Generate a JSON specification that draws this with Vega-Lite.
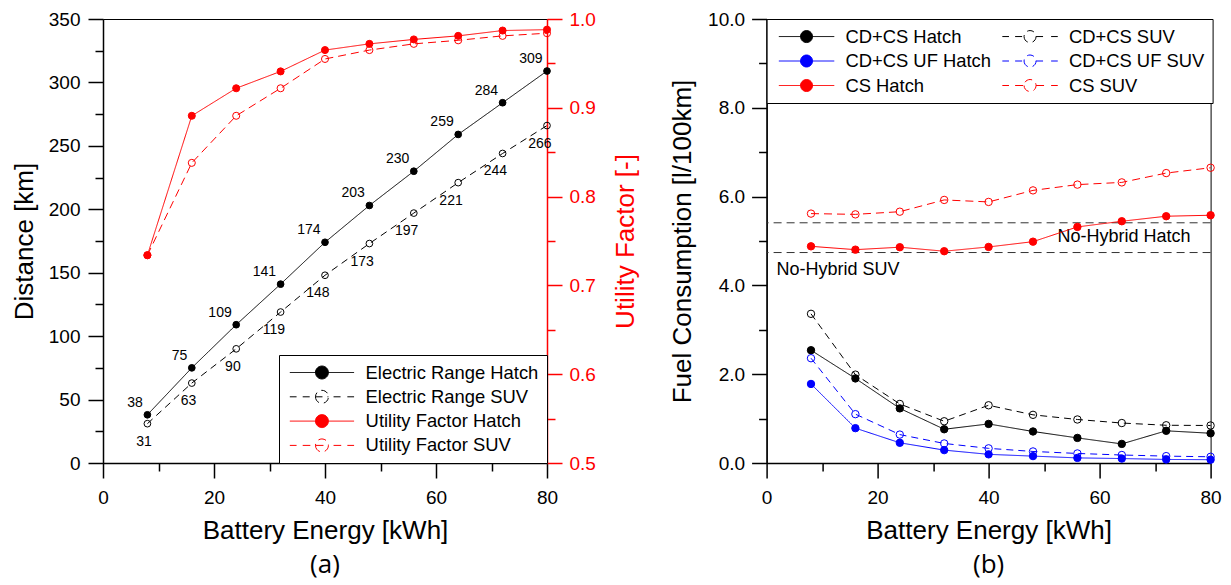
{
  "$schema": "https://vega.github.io/schema/vega-lite/v6.json",
  "padding": {"left": 10, "top": 9, "right": 0, "bottom": 10},
  "background": "white",
  "config": {
    "font": "Liberation Sans",
    "view": {"stroke": "black", "strokeWidth": 1},
    "axis": {"grid": false, "labelFontSize": 19, "labelColor": "black", "titleFontSize": 26, "titleFontWeight": "normal", "titleColor": "black", "domainColor": "black", "tickColor": "black", "domainWidth": 1.5, "tickWidth": 1.5, "labelFlush": false, "labelOverlap": false},
    "legend": {"labelFont": "Liberation Sans", "labelColor": "black"}
  },
  "bounds": "flush",
  "spacing": 219.6,
  "resolve": {
    "scale": {"x": "independent", "y": "independent", "fill": "independent", "stroke": "independent", "shape": "independent", "strokeDash": "independent"},
    "legend": {"fill": "independent", "stroke": "independent", "shape": "independent"}
  },
  "datasets": {
    "left": [
      {"energy": 8, "series": "Electric Range Hatch", "value": 38},
      {"energy": 16, "series": "Electric Range Hatch", "value": 75},
      {"energy": 24, "series": "Electric Range Hatch", "value": 109},
      {"energy": 32, "series": "Electric Range Hatch", "value": 141},
      {"energy": 40, "series": "Electric Range Hatch", "value": 174},
      {"energy": 48, "series": "Electric Range Hatch", "value": 203},
      {"energy": 56, "series": "Electric Range Hatch", "value": 230},
      {"energy": 64, "series": "Electric Range Hatch", "value": 259},
      {"energy": 72, "series": "Electric Range Hatch", "value": 284},
      {"energy": 80, "series": "Electric Range Hatch", "value": 309},
      {"energy": 8, "series": "Electric Range SUV", "value": 31},
      {"energy": 16, "series": "Electric Range SUV", "value": 63},
      {"energy": 24, "series": "Electric Range SUV", "value": 90},
      {"energy": 32, "series": "Electric Range SUV", "value": 119},
      {"energy": 40, "series": "Electric Range SUV", "value": 148},
      {"energy": 48, "series": "Electric Range SUV", "value": 173},
      {"energy": 56, "series": "Electric Range SUV", "value": 197},
      {"energy": 64, "series": "Electric Range SUV", "value": 221},
      {"energy": 72, "series": "Electric Range SUV", "value": 244},
      {"energy": 80, "series": "Electric Range SUV", "value": 266},
      {"energy": 8, "series": "Utility Factor Hatch", "value": 0.734},
      {"energy": 16, "series": "Utility Factor Hatch", "value": 0.891},
      {"energy": 24, "series": "Utility Factor Hatch", "value": 0.922},
      {"energy": 32, "series": "Utility Factor Hatch", "value": 0.941},
      {"energy": 40, "series": "Utility Factor Hatch", "value": 0.965},
      {"energy": 48, "series": "Utility Factor Hatch", "value": 0.972},
      {"energy": 56, "series": "Utility Factor Hatch", "value": 0.977},
      {"energy": 64, "series": "Utility Factor Hatch", "value": 0.981},
      {"energy": 72, "series": "Utility Factor Hatch", "value": 0.987},
      {"energy": 80, "series": "Utility Factor Hatch", "value": 0.988},
      {"energy": 8, "series": "Utility Factor SUV", "value": 0.734},
      {"energy": 16, "series": "Utility Factor SUV", "value": 0.838},
      {"energy": 24, "series": "Utility Factor SUV", "value": 0.891},
      {"energy": 32, "series": "Utility Factor SUV", "value": 0.922},
      {"energy": 40, "series": "Utility Factor SUV", "value": 0.955},
      {"energy": 48, "series": "Utility Factor SUV", "value": 0.965},
      {"energy": 56, "series": "Utility Factor SUV", "value": 0.972},
      {"energy": 64, "series": "Utility Factor SUV", "value": 0.976},
      {"energy": 72, "series": "Utility Factor SUV", "value": 0.981},
      {"energy": 80, "series": "Utility Factor SUV", "value": 0.984}
    ],
    "right": [
      {"energy": 8, "series": "CD+CS Hatch", "value": 2.54},
      {"energy": 16, "series": "CD+CS Hatch", "value": 1.905},
      {"energy": 24, "series": "CD+CS Hatch", "value": 1.23},
      {"energy": 32, "series": "CD+CS Hatch", "value": 0.76},
      {"energy": 40, "series": "CD+CS Hatch", "value": 0.88},
      {"energy": 48, "series": "CD+CS Hatch", "value": 0.71},
      {"energy": 56, "series": "CD+CS Hatch", "value": 0.565},
      {"energy": 64, "series": "CD+CS Hatch", "value": 0.43},
      {"energy": 72, "series": "CD+CS Hatch", "value": 0.725},
      {"energy": 80, "series": "CD+CS Hatch", "value": 0.67},
      {"energy": 8, "series": "CD+CS SUV", "value": 3.36},
      {"energy": 16, "series": "CD+CS SUV", "value": 1.99},
      {"energy": 24, "series": "CD+CS SUV", "value": 1.33},
      {"energy": 32, "series": "CD+CS SUV", "value": 0.94},
      {"energy": 40, "series": "CD+CS SUV", "value": 1.3},
      {"energy": 48, "series": "CD+CS SUV", "value": 1.085},
      {"energy": 56, "series": "CD+CS SUV", "value": 0.98},
      {"energy": 64, "series": "CD+CS SUV", "value": 0.9},
      {"energy": 72, "series": "CD+CS SUV", "value": 0.85},
      {"energy": 80, "series": "CD+CS SUV", "value": 0.845},
      {"energy": 8, "series": "CD+CS UF Hatch", "value": 1.78},
      {"energy": 16, "series": "CD+CS UF Hatch", "value": 0.785},
      {"energy": 24, "series": "CD+CS UF Hatch", "value": 0.455},
      {"energy": 32, "series": "CD+CS UF Hatch", "value": 0.29},
      {"energy": 40, "series": "CD+CS UF Hatch", "value": 0.195},
      {"energy": 48, "series": "CD+CS UF Hatch", "value": 0.155},
      {"energy": 56, "series": "CD+CS UF Hatch", "value": 0.115},
      {"energy": 64, "series": "CD+CS UF Hatch", "value": 0.1},
      {"energy": 72, "series": "CD+CS UF Hatch", "value": 0.08},
      {"energy": 80, "series": "CD+CS UF Hatch", "value": 0.075},
      {"energy": 8, "series": "CD+CS UF SUV", "value": 2.36},
      {"energy": 16, "series": "CD+CS UF SUV", "value": 1.1},
      {"energy": 24, "series": "CD+CS UF SUV", "value": 0.64},
      {"energy": 32, "series": "CD+CS UF SUV", "value": 0.44},
      {"energy": 40, "series": "CD+CS UF SUV", "value": 0.33},
      {"energy": 48, "series": "CD+CS UF SUV", "value": 0.26},
      {"energy": 56, "series": "CD+CS UF SUV", "value": 0.215},
      {"energy": 64, "series": "CD+CS UF SUV", "value": 0.18},
      {"energy": 72, "series": "CD+CS UF SUV", "value": 0.155},
      {"energy": 80, "series": "CD+CS UF SUV", "value": 0.14},
      {"energy": 8, "series": "CS Hatch", "value": 4.88},
      {"energy": 16, "series": "CS Hatch", "value": 4.805},
      {"energy": 24, "series": "CS Hatch", "value": 4.86},
      {"energy": 32, "series": "CS Hatch", "value": 4.77},
      {"energy": 40, "series": "CS Hatch", "value": 4.866},
      {"energy": 48, "series": "CS Hatch", "value": 4.985},
      {"energy": 56, "series": "CS Hatch", "value": 5.317},
      {"energy": 64, "series": "CS Hatch", "value": 5.445},
      {"energy": 72, "series": "CS Hatch", "value": 5.558},
      {"energy": 80, "series": "CS Hatch", "value": 5.58},
      {"energy": 8, "series": "CS SUV", "value": 5.617},
      {"energy": 16, "series": "CS SUV", "value": 5.6},
      {"energy": 24, "series": "CS SUV", "value": 5.66},
      {"energy": 32, "series": "CS SUV", "value": 5.925},
      {"energy": 40, "series": "CS SUV", "value": 5.88},
      {"energy": 48, "series": "CS SUV", "value": 6.14},
      {"energy": 56, "series": "CS SUV", "value": 6.27},
      {"energy": 64, "series": "CS SUV", "value": 6.32},
      {"energy": 72, "series": "CS SUV", "value": 6.53},
      {"energy": 80, "series": "CS SUV", "value": 6.65}
    ],
    "refs": [
      {"ref": "No-Hybrid Hatch", "value": 5.41},
      {"ref": "No-Hybrid SUV", "value": 4.74}
    ]
  },
  "hconcat": [
    {
      "width": 444,
      "height": 444,
      "data": {"name": "left"},
      "title": {"text": "(a)", "orient": "bottom", "anchor": "middle", "font": "Open Sans", "fontSize": 26, "fontWeight": "normal", "offset": 9},
      "layer": [
        {
          "layer": [
            {
              "transform": [{"filter": "datum.energy < 0"}],
              "mark": {"type": "point", "opacity": 1},
              "encoding": {
                "x": {"field": "energy", "type": "quantitative", "scale": {"domain": [0, 80], "nice": false},
                  "axis": {"orient": "bottom", "values": [0, 20, 40, 60, 80], "format": "d", "title": "Battery Energy [kWh]", "tickSize": 15, "labelPadding": 10, "titlePadding": 10}},
                "y": {"field": "value", "type": "quantitative", "scale": {"domain": [0, 350], "nice": false},
                  "axis": {"orient": "left", "values": [0, 50, 100, 150, 200, 250, 300, 350], "format": "d", "title": "Distance [km]", "tickSize": 15, "labelPadding": 8, "titlePadding": 11}},
                "fill": {"field": "series", "type": "nominal",
                  "scale": {"domain": ["Electric Range Hatch", "Electric Range SUV", "Utility Factor Hatch", "Utility Factor SUV"], "range": ["black", "transparent", "red", "transparent"]},
                  "legend": {"title": null, "orient": "bottom-right", "offset": 0, "padding": 8, "symbolSize": 324, "symbolOffset": 25.45, "symbolStrokeWidth": 1, "symbolOpacity": 1, "labelFontSize": 18.4, "labelOffset": 34.15, "rowPadding": 5.3, "fillColor": "white", "strokeColor": "black", "labelLimit": 400}},
                "stroke": {"field": "series", "type": "nominal",
                  "scale": {"domain": ["Electric Range Hatch", "Electric Range SUV", "Utility Factor Hatch", "Utility Factor SUV"], "range": ["black", "black", "red", "red"]},
                  "legend": {"title": null, "orient": "bottom-right", "offset": 0, "padding": 8, "symbolSize": 324, "symbolOffset": 25.45, "symbolStrokeWidth": 1, "symbolOpacity": 1, "labelFontSize": 18.4, "labelOffset": 34.15, "rowPadding": 5.3, "fillColor": "white", "strokeColor": "black", "labelLimit": 400}},
                "shape": {"field": "series", "type": "nominal",
                  "scale": {"domain": ["Electric Range Hatch", "Electric Range SUV", "Utility Factor Hatch", "Utility Factor SUV"],
                    "range": [
                      "M-3.57,0H3.57M-0.72,0A0.72,0.72,0,1,0,0.72,0A0.72,0.72,0,1,0,-0.72,0Z",
                      "M-3.57,0H-2.82M-2.14,0H-1.29M-0.72,0H0.72M1.29,0H2.14M2.82,0H3.57M-0.72,0A0.72,0.72,0,1,0,0.72,0A0.72,0.72,0,1,0,-0.72,0Z",
                      "M-3.57,0H3.57M-0.72,0A0.72,0.72,0,1,0,0.72,0A0.72,0.72,0,1,0,-0.72,0Z",
                      "M-3.57,0H-2.82M-2.14,0H-1.29M-0.72,0H0.72M1.29,0H2.14M2.82,0H3.57M-0.72,0A0.72,0.72,0,1,0,0.72,0A0.72,0.72,0,1,0,-0.72,0Z"
                    ]},
                  "legend": {"title": null, "orient": "bottom-right", "offset": 0, "padding": 8, "symbolSize": 324, "symbolOffset": 25.45, "symbolStrokeWidth": 1, "symbolOpacity": 1, "labelFontSize": 18.4, "labelOffset": 34.15, "rowPadding": 5.3, "fillColor": "white", "strokeColor": "black", "labelLimit": 400}}
              }
            },
            {
              "transform": [{"filter": {"field": "series", "oneOf": ["Electric Range Hatch", "Electric Range SUV"]}}],
              "mark": {"type": "line", "strokeWidth": 1},
              "encoding": {
                "x": {"field": "energy", "type": "quantitative", "scale": {"domain": [0, 80], "nice": false},
                  "axis": {"orient": "bottom", "values": [10, 30, 50, 70], "labels": false, "domain": false, "title": null, "tickSize": 8}},
                "y": {"field": "value", "type": "quantitative", "scale": {"domain": [0, 350], "nice": false},
                  "axis": {"orient": "left", "values": [25, 75, 125, 175, 225, 275, 325], "labels": false, "domain": false, "title": null, "tickSize": 8}},
                "stroke": {"field": "series", "type": "nominal"},
                "strokeDash": {"field": "series", "type": "nominal", "legend": null,
                  "scale": {"domain": ["Electric Range Hatch", "Electric Range SUV", "Utility Factor Hatch", "Utility Factor SUV"], "range": [[1, 0], [7, 5], [1, 0], [8, 5]]}}
              }
            },
            {
              "transform": [{"filter": {"field": "series", "oneOf": ["Electric Range Hatch", "Electric Range SUV"]}}],
              "mark": {"type": "point", "shape": "circle", "size": 45, "strokeWidth": 1, "opacity": 1},
              "encoding": {
                "x": {"field": "energy", "type": "quantitative", "axis": null},
                "y": {"field": "value", "type": "quantitative", "axis": null},
                "fill": {"field": "series", "type": "nominal"},
                "stroke": {"field": "series", "type": "nominal"}
              }
            },
            {
              "transform": [{"filter": "datum.series == 'Electric Range Hatch'"}],
              "mark": {"type": "text", "align": "right", "baseline": "middle", "dx": -4.5, "dy": -12, "fontSize": 14, "color": "black"},
              "encoding": {
                "x": {"field": "energy", "type": "quantitative", "axis": null},
                "y": {"field": "value", "type": "quantitative", "axis": null},
                "text": {"field": "value", "type": "quantitative"}
              }
            },
            {
              "transform": [{"filter": "datum.series == 'Electric Range SUV'"}],
              "mark": {"type": "text", "align": "right", "baseline": "middle", "dx": 4.5, "dy": 18, "fontSize": 14, "color": "black"},
              "encoding": {
                "x": {"field": "energy", "type": "quantitative", "axis": null},
                "y": {"field": "value", "type": "quantitative", "axis": null},
                "text": {"field": "value", "type": "quantitative"}
              }
            }
          ],
          "resolve": {"axis": {"x": "independent", "y": "independent"}}
        },
        {
          "layer": [
            {
              "transform": [{"filter": {"field": "series", "oneOf": ["Utility Factor Hatch", "Utility Factor SUV"]}}],
              "mark": {"type": "line", "strokeWidth": 1},
              "encoding": {
                "x": {"field": "energy", "type": "quantitative", "axis": null},
                "y": {"field": "value", "type": "quantitative", "scale": {"domain": [0.5, 1], "nice": false, "zero": false},
                  "axis": {"orient": "right", "values": [0.5, 0.6, 0.7, 0.8, 0.9, 1.0], "format": ".1f", "title": "Utility Factor [-]", "titleColor": "red", "labelColor": "red", "tickColor": "red", "domainColor": "red", "titleAngle": 270, "titleBaseline": "top", "tickSize": 15, "labelPadding": 7, "titlePadding": 17}},
                "stroke": {"field": "series", "type": "nominal"},
                "strokeDash": {"field": "series", "type": "nominal", "legend": null}
              }
            },
            {
              "transform": [{"filter": {"field": "series", "oneOf": ["Utility Factor Hatch", "Utility Factor SUV"]}}],
              "mark": {"type": "point", "shape": "circle", "size": 50, "strokeWidth": 1, "opacity": 1},
              "encoding": {
                "x": {"field": "energy", "type": "quantitative", "axis": null},
                "y": {"field": "value", "type": "quantitative", "scale": {"domain": [0.5, 1], "nice": false, "zero": false},
                  "axis": {"orient": "right", "values": [0.55, 0.65, 0.75, 0.85, 0.95], "labels": false, "domain": false, "title": null, "tickSize": 8, "tickColor": "red"}},
                "fill": {"field": "series", "type": "nominal"},
                "stroke": {"field": "series", "type": "nominal"}
              }
            }
          ],
          "resolve": {"axis": {"y": "independent"}}
        }
      ],
      "resolve": {"scale": {"y": "independent"}}
    },
    {
      "width": 444,
      "height": 444,
      "data": {"name": "right"},
      "title": {"text": "(b)", "orient": "bottom", "anchor": "middle", "font": "Open Sans", "fontSize": 26, "fontWeight": "normal", "offset": 9},
      "layer": [
        {
          "transform": [{"filter": "datum.energy < 0"}],
          "mark": {"type": "point", "opacity": 1},
          "encoding": {
            "x": {"field": "energy", "type": "quantitative", "scale": {"domain": [0, 80], "nice": false},
              "axis": {"orient": "bottom", "values": [0, 20, 40, 60, 80], "format": "d", "title": "Battery Energy [kWh]", "tickSize": 15, "labelPadding": 10, "titlePadding": 10}},
            "y": {"field": "value", "type": "quantitative", "scale": {"domain": [0, 10], "nice": false},
              "axis": {"orient": "left", "values": [0, 2, 4, 6, 8, 10], "format": ".1f", "title": "Fuel Consumption [l/100km]", "tickSize": 15, "labelPadding": 7, "titlePadding": 12}},
            "fill": {"field": "series", "type": "nominal",
              "scale": {"domain": ["CD+CS Hatch", "CD+CS UF Hatch", "CS Hatch", "CD+CS SUV", "CD+CS UF SUV", "CS SUV"], "range": ["black", "blue", "red", "transparent", "transparent", "transparent"]},
              "legend": {"title": null, "orient": "top-left", "offset": 0, "columns": 2, "padding": 8, "symbolSize": 324, "symbolOffset": 22.45, "symbolStrokeWidth": 1, "symbolOpacity": 1, "labelFontSize": 18.4, "labelOffset": 29.35, "columnPadding": 6.5, "rowPadding": 5.5, "fillColor": "white", "strokeColor": "black", "labelLimit": 400}},
            "stroke": {"field": "series", "type": "nominal",
              "scale": {"domain": ["CD+CS Hatch", "CD+CS UF Hatch", "CS Hatch", "CD+CS SUV", "CD+CS UF SUV", "CS SUV"], "range": ["black", "blue", "red", "black", "blue", "red"]},
              "legend": {"title": null, "orient": "top-left", "offset": 0, "columns": 2, "padding": 8, "symbolSize": 324, "symbolOffset": 22.45, "symbolStrokeWidth": 1, "symbolOpacity": 1, "labelFontSize": 18.4, "labelOffset": 29.35, "columnPadding": 6.5, "rowPadding": 5.5, "fillColor": "white", "strokeColor": "black", "labelLimit": 400}},
            "shape": {"field": "series", "type": "nominal",
              "scale": {"domain": ["CD+CS Hatch", "CD+CS UF Hatch", "CS Hatch", "CD+CS SUV", "CD+CS UF SUV", "CS SUV"],
                "range": [
                  "M-3.08,0H3.08M-0.667,0A0.667,0.667,0,1,0,0.667,0A0.667,0.667,0,1,0,-0.667,0Z",
                  "M-3.08,0H3.08M-0.667,0A0.667,0.667,0,1,0,0.667,0A0.667,0.667,0,1,0,-0.667,0Z",
                  "M-3.08,0H3.08M-0.667,0A0.667,0.667,0,1,0,0.667,0A0.667,0.667,0,1,0,-0.667,0Z",
                  "M-3.08,0H-2.34M-1.66,0H-0.667M0.667,0H1.66M2.34,0H3.08M-0.667,0A0.667,0.667,0,1,0,0.667,0A0.667,0.667,0,1,0,-0.667,0Z",
                  "M-3.08,0H-2.34M-1.66,0H-0.667M0.667,0H1.66M2.34,0H3.08M-0.667,0A0.667,0.667,0,1,0,0.667,0A0.667,0.667,0,1,0,-0.667,0Z",
                  "M-3.08,0H-2.34M-1.66,0H-0.667M0.667,0H1.66M2.34,0H3.08M-0.667,0A0.667,0.667,0,1,0,0.667,0A0.667,0.667,0,1,0,-0.667,0Z"
                ]},
              "legend": {"title": null, "orient": "top-left", "offset": 0, "columns": 2, "padding": 8, "symbolSize": 324, "symbolOffset": 22.45, "symbolStrokeWidth": 1, "symbolOpacity": 1, "labelFontSize": 18.4, "labelOffset": 29.35, "columnPadding": 6.5, "rowPadding": 5.5, "fillColor": "white", "strokeColor": "black", "labelLimit": 400}}
          }
        },
        {
          "data": {"name": "refs"},
          "mark": {"type": "rule", "strokeDash": [8, 5], "strokeWidth": 1, "color": "#333333"},
          "encoding": {
            "y": {"field": "value", "type": "quantitative", "scale": {"domain": [0, 10], "nice": false},
              "axis": {"orient": "left", "values": [1, 3, 5, 7, 9], "labels": false, "domain": false, "title": null, "tickSize": 8}}
          }
        },
        {
          "data": {"name": "refs"},
          "transform": [{"filter": "datum.ref == 'No-Hybrid Hatch'"}],
          "mark": {"type": "text", "align": "right", "baseline": "middle", "dx": -20, "dy": 14, "fontSize": 18, "color": "black"},
          "encoding": {
            "x": {"datum": 80, "type": "quantitative", "axis": null},
            "y": {"field": "value", "type": "quantitative", "axis": null},
            "text": {"field": "ref", "type": "nominal"}
          }
        },
        {
          "data": {"name": "refs"},
          "transform": [{"filter": "datum.ref == 'No-Hybrid SUV'"}],
          "mark": {"type": "text", "align": "left", "baseline": "middle", "dx": 10, "dy": 17.5, "fontSize": 18, "color": "black"},
          "encoding": {
            "x": {"datum": 0, "type": "quantitative", "axis": null},
            "y": {"field": "value", "type": "quantitative", "axis": null},
            "text": {"field": "ref", "type": "nominal"}
          }
        },
        {
          "mark": {"type": "line", "strokeWidth": 1},
          "encoding": {
            "x": {"field": "energy", "type": "quantitative", "scale": {"domain": [0, 80], "nice": false},
              "axis": {"orient": "bottom", "values": [10, 30, 50, 70], "labels": false, "domain": false, "title": null, "tickSize": 8}},
            "y": {"field": "value", "type": "quantitative", "axis": null},
            "stroke": {"field": "series", "type": "nominal"},
            "strokeDash": {"field": "series", "type": "nominal", "legend": null,
              "scale": {"domain": ["CD+CS Hatch", "CD+CS UF Hatch", "CS Hatch", "CD+CS SUV", "CD+CS UF SUV", "CS SUV"], "range": [[1, 0], [1, 0], [1, 0], [7, 5], [7, 5], [8, 5]]}}
          }
        },
        {
          "mark": {"type": "point", "shape": "circle", "size": 55, "strokeWidth": 1, "opacity": 1},
          "encoding": {
            "x": {"field": "energy", "type": "quantitative", "axis": null},
            "y": {"field": "value", "type": "quantitative", "axis": null},
            "fill": {"field": "series", "type": "nominal"},
            "stroke": {"field": "series", "type": "nominal"}
          }
        }
      ],
      "resolve": {"axis": {"x": "independent", "y": "independent"}}
    }
  ]
}
